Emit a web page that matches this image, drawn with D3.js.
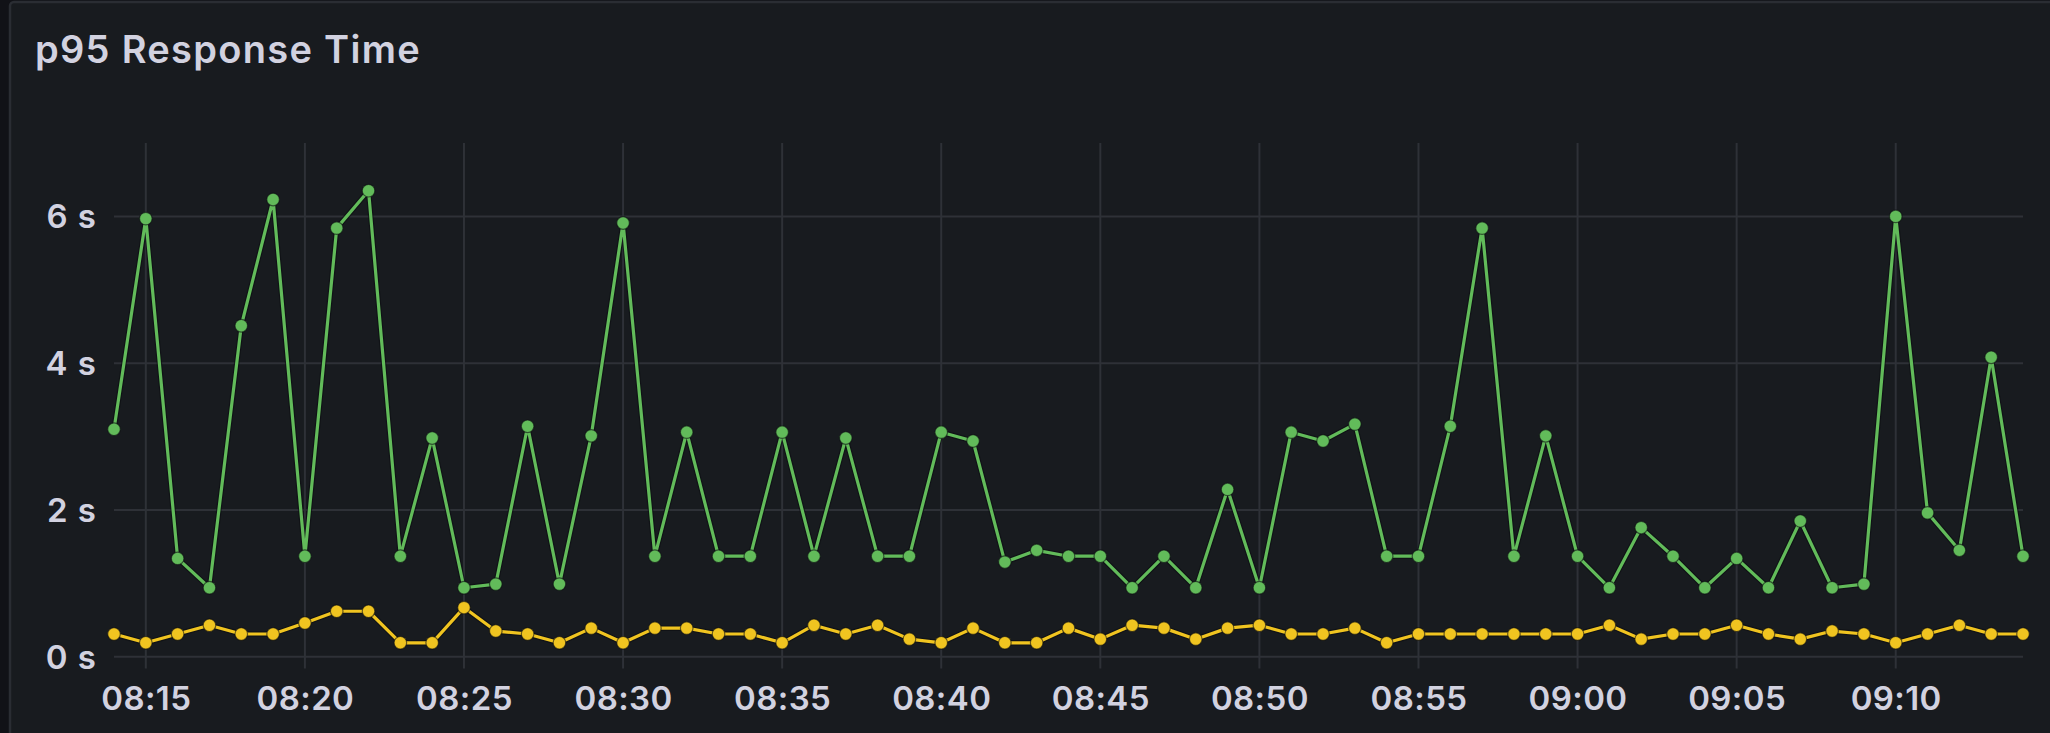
<!DOCTYPE html>
<html lang="en">
  <head>
    <meta charset="UTF-8">
    <title>p95 Response Time</title>
    <style>
      html, body { margin: 0; padding: 0; background: #111217; overflow: hidden; }
      #chart text { font-family: Inter, "Noto Sans", sans-serif; fill: #d2d2e0; }
    </style>
  </head>
  <body>
    <div id="chart"></div>
    <script src="https://d3js.org/d3.v7.min.js"></script>
    <script>
      // minute stamps, one point per minute
      const times = [
        "08:14","08:15","08:16","08:17","08:18","08:19","08:20","08:21","08:22","08:23",
        "08:24","08:25","08:26","08:27","08:28","08:29","08:30","08:31","08:32","08:33",
        "08:34","08:35","08:36","08:37","08:38","08:39","08:40","08:41","08:42","08:43",
        "08:44","08:45","08:46","08:47","08:48","08:49","08:50","08:51","08:52","08:53",
        "08:54","08:55","08:56","08:57","08:58","08:59","09:00","09:01","09:02","09:03",
        "09:04","09:05","09:06","09:07","09:08","09:09","09:10","09:11","09:12","09:13",
        "09:14"
      ];

      // green series (seconds)
      const slowSeries = [
        3.10, 5.97, 1.34, 0.94, 4.51, 6.23, 1.37, 5.84, 6.35, 1.37,
        2.98, 0.94, 0.99, 3.14, 0.99, 3.01, 5.91, 1.37, 3.06, 1.37,
        1.37, 3.06, 1.37, 2.98, 1.37, 1.37, 3.06, 2.94, 1.29, 1.45,
        1.37, 1.37, 0.94, 1.37, 0.94, 2.28, 0.94, 3.06, 2.94, 3.17,
        1.37, 1.37, 3.14, 5.84, 1.37, 3.01, 1.37, 0.94, 1.76, 1.37,
        0.94, 1.34, 0.94, 1.85, 0.94, 0.99, 6.00, 1.96, 1.45, 4.08,
        1.37
      ];

      // yellow series (seconds)
      const fastSeries = [
        0.31, 0.19, 0.31, 0.43, 0.31, 0.31, 0.46, 0.62, 0.62, 0.19,
        0.19, 0.67, 0.35, 0.31, 0.19, 0.39, 0.19, 0.39, 0.39, 0.31,
        0.31, 0.19, 0.43, 0.31, 0.43, 0.24, 0.19, 0.39, 0.19, 0.19,
        0.39, 0.24, 0.43, 0.39, 0.24, 0.39, 0.43, 0.31, 0.31, 0.39,
        0.19, 0.31, 0.31, 0.31, 0.31, 0.31, 0.31, 0.43, 0.24, 0.31,
        0.31, 0.43, 0.31, 0.24, 0.35, 0.31, 0.19, 0.31, 0.43, 0.31,
        0.31
      ];

      const yTicks = [0, 2, 4, 6];
      const xTicks = ["08:15","08:20","08:25","08:30","08:35","08:40","08:45",
                      "08:50","08:55","09:00","09:05","09:10"];

      const W = 2050, H = 733;
      const plot = { left: 114, right: 2023, top: 143, bottom: 668.5 };

      const parse = d3.timeParse("%H:%M");
      const fmt = d3.timeFormat("%H:%M");
      const dates = times.map(parse);

      const svg = d3.select("#chart").append("svg")
          .attr("width", W)
          .attr("height", H);

      // panel
      svg.append("rect")
          .attr("x", 10).attr("y", 2)
          .attr("width", W + 20).attr("height", H + 20)
          .attr("rx", 4)
          .attr("fill", "#181b1f")
          .attr("stroke", "#2a2d33")
          .attr("stroke-width", 2.5);

      svg.append("text")
          .attr("x", 35)
          .attr("y", 63)
          .style("font-size", "38px")
          .style("font-weight", 600)
          .style("letter-spacing", "1.3px")
          .text("p95 Response Time");

      const x = d3.scaleTime()
          .domain(d3.extent(dates))
          .range([plot.left, plot.right]);
      const y = d3.scaleLinear()
          .domain([-0.16, 7])
          .range([plot.bottom, plot.top]);

      // grid
      const grid = svg.append("g").attr("stroke", "#2e3137").attr("stroke-width", 2);
      grid.selectAll("line.h").data(yTicks).join("line")
          .attr("class", "h")
          .attr("x1", plot.left).attr("x2", plot.right)
          .attr("y1", d => y(d)).attr("y2", d => y(d));
      grid.selectAll("line.v").data(xTicks.map(parse)).join("line")
          .attr("class", "v")
          .attr("x1", d => x(d)).attr("x2", d => x(d))
          .attr("y1", plot.top).attr("y2", plot.bottom);

      // y axis labels
      const yAxis = svg.append("g")
          .attr("transform", "translate(" + plot.left + ",0)")
          .call(d3.axisLeft(y).tickValues(yTicks).tickSize(0).tickPadding(17)
                .tickFormat(d => d + " s"));
      yAxis.select(".domain").remove();
      yAxis.selectAll("text")
          .style("font-size", "33px")
          .style("font-weight", 600)
          .style("letter-spacing", "1px")
          .attr("dy", "0.35em");

      // x axis labels
      const xAxis = svg.append("g")
          .attr("transform", "translate(0," + plot.bottom + ")")
          .call(d3.axisBottom(x).tickValues(xTicks.map(parse)).tickSize(0).tickPadding(0)
                .tickFormat(fmt));
      xAxis.select(".domain").remove();
      xAxis.selectAll("text")
          .style("font-size", "33px")
          .style("font-weight", 600)
          .style("letter-spacing", "0.4px")
          .attr("y", 41)
          .attr("dy", 0);

      const line = d3.line()
          .x((d, i) => x(dates[i]))
          .y(d => y(d));

      function drawSeries(values, color) {
        const g = svg.append("g");
        // dark halo under the line
        g.append("path")
            .datum(values)
            .attr("fill", "none")
            .attr("stroke", "#0c0d10")
            .attr("stroke-opacity", 0.6)
            .attr("stroke-width", 5.5)
            .attr("stroke-linejoin", "round")
            .attr("d", line);
        g.append("path")
            .datum(values)
            .attr("fill", "none")
            .attr("stroke", color)
            .attr("stroke-width", 3.2)
            .attr("stroke-linejoin", "round")
            .attr("d", line);
        g.selectAll("circle")
            .data(values)
            .join("circle")
            .attr("cx", (d, i) => x(dates[i]))
            .attr("cy", d => y(d))
            .attr("r", 6.3)
            .attr("fill", color)
            .attr("stroke", "#0c0d10")
            .attr("stroke-opacity", 0.6)
            .attr("stroke-width", 1.2);
      }

      drawSeries(slowSeries, "#62bb5a");
      drawSeries(fastSeries, "#f0c420");
    </script>
  </body>
</html>
